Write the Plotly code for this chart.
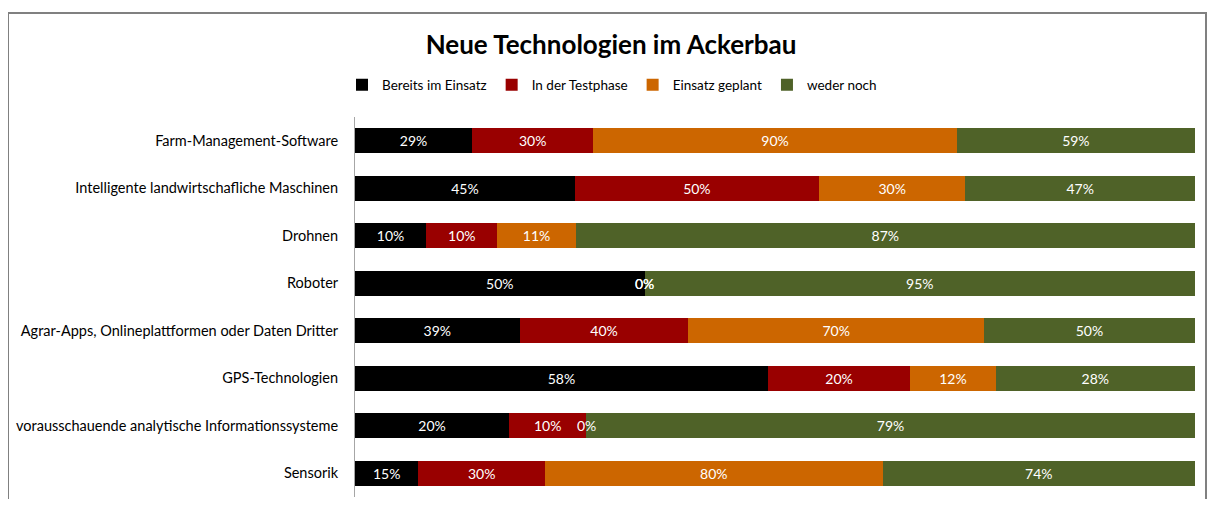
import plotly.graph_objects as go

categories = [
    "Farm-Management-Software",
    "Intelligente landwirtschafliche Maschinen",
    "Drohnen",
    "Roboter",
    "Agrar-Apps, Onlineplattformen oder Daten Dritter",
    "GPS-Technologien",
    "vorausschauende analytische Informationssysteme",
    "Sensorik",
]
series_names = ["Bereits im Einsatz", "In der Testphase", "Einsatz geplant", "weder noch"]
bereits = [29, 45, 10, 50, 39, 58, 20, 15]
testphase = [30, 50, 10, 0, 40, 20, 10, 30]
geplant = [90, 30, 11, 0, 70, 12, 0, 80]
weder = [59, 47, 87, 95, 50, 28, 79, 74]
colors = ["#000000", "#990000", "#CC6600", "#4F6228"]

FONT = "Lato"
W, H = 1200, 491
PL, PR, PT, PB = 347, 13, 109, 2
PW, PH = W - PL - PR, H - PT - PB

all_series = [bereits, testphase, geplant, weder]
fig = go.Figure()
for name, vals, col in zip(series_names, all_series, colors):
    fig.add_trace(go.Bar(
        y=categories, x=vals, name=name, orientation="h",
        marker=dict(color=col, line=dict(width=0)),
        text=[f"{v}%" for v in vals], textposition="inside",
        insidetextanchor="middle", constraintext="none",
        textfont=dict(color="white", size=14, family=FONT),
        cliponaxis=False,
    ))

# labels for zero-width segments (placed at the segment boundary, derived from data)
for i, cat in enumerate(categories):
    total = sum(s[i] for s in all_series)
    cum = 0
    for s in all_series:
        if s[i] == 0:
            fig.add_annotation(x=cum / total * 100, y=cat, text="0%", showarrow=False,
                               font=dict(color="white", size=14, family=FONT),
                               xanchor="center", yanchor="middle")
        cum += s[i]

fig.update_layout(
    barmode="stack", barnorm="percent", bargap=0.47,
    width=W, height=H,
    margin=dict(l=PL, r=PR, t=PT, b=PB, autoexpand=False),
    paper_bgcolor="white", plot_bgcolor="white",
    font=dict(family=FONT, size=14.5, color="#000000"),
    title=dict(text="<b>Neue Technologien im Ackerbau</b>", x=603 / W, xanchor="center",
               y=1 - 37 / H, yanchor="middle", font=dict(size=26, family=FONT, color="black")),
    legend=dict(orientation="h", x=(604 - PL) / PW, xanchor="center",
                y=1 + (PT - 77) / PH, yanchor="middle",
                font=dict(size=13.5, family=FONT), traceorder="normal"),
    xaxis=dict(range=[0, 100], visible=False, showgrid=False),
    yaxis=dict(autorange="reversed", showline=True, linecolor="#A6A6A6", linewidth=1,
               ticks="", ticklabelstandoff=13, showgrid=False),
    showlegend=True,
)
fig.add_shape(type="rect", xref="paper", yref="paper",
              x0=(0 - PL) / PW, x1=(1198 - PL) / PW,
              y0=-0.1, y1=1 + (PT - 5) / PH,
              line=dict(color="#808080", width=2), fillcolor="rgba(0,0,0,0)", layer="below")
fig.write_html("out.html")
